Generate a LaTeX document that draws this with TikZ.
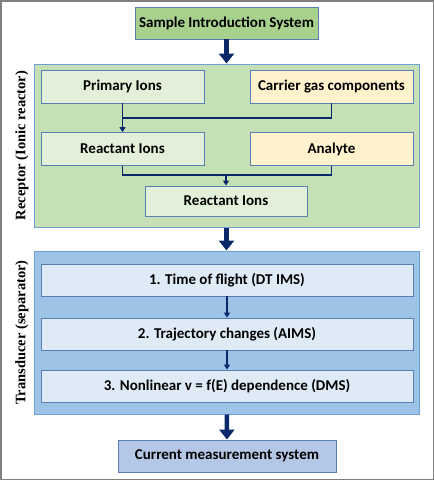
\documentclass[tikz,border=0pt]{standalone}
\usepackage{fontspec}
\setmainfont{Carlito}
\newfontfamily\sidefont{Liberation Serif}
\usetikzlibrary{arrows.meta}
\definecolor{framegray}{HTML}{7F7F7F}
\definecolor{arrownavy}{HTML}{0A2769}
\definecolor{edgeblue}{HTML}{5A7FB5}
\definecolor{groupedge}{HTML}{6E9FD6}
\definecolor{samplegreen}{HTML}{A9D18E}
\definecolor{groupgreen}{HTML}{C5E0B4}
\definecolor{ionsgreen}{HTML}{E2F0D9}
\definecolor{gascream}{HTML}{FFF2CC}
\definecolor{groupblue}{HTML}{9DC3E6}
\definecolor{stepblue}{HTML}{DEEBF7}
\definecolor{currentblue}{HTML}{B4C7E7}
\tikzset{
        box_node/.style={rectangle, draw=edgeblue, line width=0.9pt, inner sep=0pt,
                         font=\bfseries\fontsize{15}{17}\selectfont},
        b_sample/.style={box_node, fill=samplegreen, minimum width=183pt, minimum height=32pt},
        b_ions/.style={box_node, fill=ionsgreen, minimum width=163pt, minimum height=33pt},
        b_gas/.style={box_node, fill=gascream, minimum width=163pt, minimum height=33pt},
        b_step/.style={box_node, fill=stepblue, minimum width=372pt, minimum height=32pt},
        b_current/.style={box_node, fill=currentblue, minimum width=218pt, minimum height=32pt},
        group_node/.style={rectangle, draw=groupedge, line width=1pt, inner sep=0pt,
                           minimum width=385pt, minimum height=163pt},
        side_text/.style={rotate=90, font=\sidefont\bfseries\fontsize{14.5}{16}\selectfont},
        big_arrow/.style={draw=arrownavy, line width=4.5pt,
                          -{Triangle[width=15pt,length=10pt]}},
        link_line/.style={draw=arrownavy, line width=1.6pt},
        link_arrow/.style={link_line, -{Triangle[width=6pt,length=5pt]}}
    }
\begin{document}
\begin{tikzpicture}[x=1pt, y=-1pt]
    \useasboundingbox (0,0) rectangle (434,480);
    \draw[framegray, line width=1.5pt] (0.75,0.75) rectangle (433.25,479.25);
    % top
    \node[b_sample] (sample) at (226.5,23) {Sample Introduction System};
    % receptor
    \node[group_node, fill=groupgreen] (receptor) at (226.5,145.5) {};
    \node[side_text] (receptor_label) at (22,145.5) {Receptor (Ionic reactor)};
    \node[b_ions] (primary) at (122.5,86.5) {Primary Ions};
    \node[b_gas] (carrier) at (331.5,86.5) {Carrier gas components};
    \node[b_ions] (reactant) at (122.5,149) {Reactant Ions};
    \node[b_gas] (analyte) at (331.5,149) {Analyte};
    \node[b_ions, minimum width=162pt, minimum height=30pt] (reactant_out) at (226,201) {Reactant Ions};
    \coordinate (join_a) at (122.5,118);
    \coordinate (join_b) at (226,175);
    \draw[link_arrow] (primary.south) -- (reactant.north);
    \draw[link_line] (carrier.south) |- (join_a);
    \draw[link_line] (reactant.south) |- (join_b);
    \draw[link_line] (analyte.south) |- (join_b);
    \draw[link_arrow] (join_b) -- (reactant_out.north);
    % transducer
    \node[group_node, fill=groupblue] (transducer) at (226.5,332.5) {};
    \node[side_text] (transducer_label) at (22,332.5) {Transducer (separator)};
    \node[b_step] (flight) at (227,280) {1. Time of flight (DT IMS)};
    \node[b_step] (trajectory) at (227,334) {2. Trajectory changes (AIMS)};
    \node[b_step] (nonlinear) at (227,386) {3. Nonlinear v = f(E) dependence (DMS)};
    \draw[link_arrow] (flight) -- (trajectory);
    \draw[link_arrow] (trajectory) -- (nonlinear);
    % bottom
    \node[b_current] (current) at (227,456) {Current measurement system};
    \draw[big_arrow] (sample) -- (receptor);
    \draw[big_arrow] (receptor) -- (transducer);
    \draw[big_arrow] (transducer) -- (current);
\end{tikzpicture}
\end{document}
